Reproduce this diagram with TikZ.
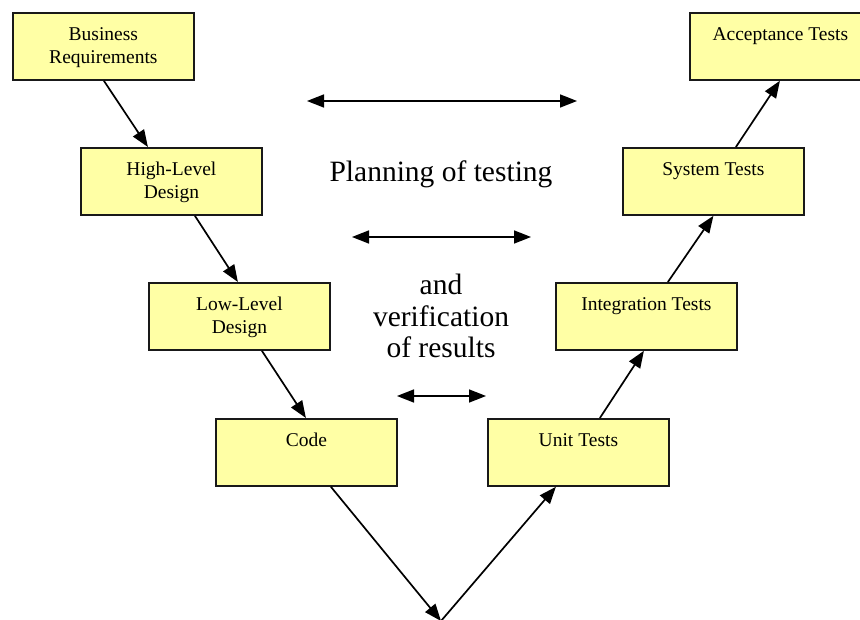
\documentclass[tikz,border=0pt]{standalone}
\usepackage{fontspec}
\setmainfont{Liberation Serif}
\usetikzlibrary{arrows.meta}
\definecolor{boxfill}{RGB}{255,255,165}
\tikzset{
  stagebox/.style={draw=black!90, line width=1.8pt, fill=boxfill,
    minimum width=181pt, minimum height=67pt, inner sep=0pt, anchor=north west},
  boxtext/.style={anchor=north, yshift=-15pt, inner sep=0pt, align=center,
    font=\fontsize{19.5}{23}\selectfont},
  flow/.style={line width=1.7pt, -{Triangle[length=17pt,width=13pt]}},
  both/.style={line width=1.7pt, {Triangle[length=17pt,width=13pt]}-{Triangle[length=17pt,width=13pt]}},
  bigtext/.style={font=\fontsize{29.5}{31.5}\selectfont, align=center, inner sep=0pt}
}
\begin{document}
\begin{tikzpicture}[x=1pt,y=-1pt]
\useasboundingbox (0,0) rectangle (860,620);

% development stages (left arm of the V)
\node[stagebox, label={[boxtext]north:Business\\Requirements}] (br)  at (12,12)  {};
\node[stagebox, label={[boxtext]north:High-Level\\Design}]     (hld) at (80,147) {};
\node[stagebox, label={[boxtext]north:Low-Level\\Design}]      (lld) at (148,282) {};
\node[stagebox, label={[boxtext]north:Code}]                   (code) at (215,418) {};

% test stages (right arm of the V)
\node[stagebox, label={[boxtext]north:Unit Tests}]        (ut) at (487,418) {};
\node[stagebox, label={[boxtext]north:Integration Tests}] (it) at (555,282) {};
\node[stagebox, label={[boxtext]north:System Tests}]      (st) at (622,147) {};
\node[stagebox, label={[boxtext]north:Acceptance Tests}]  (at) at (689,12)  {};

% bottom vertex of the V
\coordinate (vtx) at (441,621);

% descending arm
\draw[flow] ([xshift=0.5pt]br.south)  -- ([xshift=-23.5pt]hld.north);
\draw[flow] ([xshift=23.5pt]hld.south) -- ([xshift=-1.5pt]lld.north);
\draw[flow] ([xshift=22.5pt]lld.south) -- ([xshift=-0.5pt]code.north);
\draw[flow] ([xshift=24.5pt]code.south) -- (vtx);

% ascending arm
\draw[flow] (vtx) -- ([xshift=-22.5pt]ut.south);
\draw[flow] ([xshift=21.5pt]ut.north) -- ([xshift=-2.5pt]it.south);
\draw[flow] ([xshift=21.5pt]it.north) -- (st.south);
\draw[flow] ([xshift=22.5pt]st.north) -- ([xshift=-0.5pt]at.south);

% planning / verification links between matching levels
\coordinate (l1) at (307,101); \coordinate (r1) at (577,101);
\coordinate (l2) at (352,237); \coordinate (r2) at (531,237);
\coordinate (l3) at (397,396); \coordinate (r3) at (486,396);
\draw[both] (l1) -- (r1);
\draw[both] (l2) -- (r2);
\draw[both] (l3) -- (r3);

\node[bigtext, anchor=base] (plan) at (441,182) {Planning of testing};
\node[bigtext, anchor=base] (verif) at (441,295) {and};
\node[bigtext, anchor=base] (verif2) at (441,326.5) {verification};
\node[bigtext, anchor=base] (verif3) at (441,358) {of results};
\end{tikzpicture}
\end{document}
